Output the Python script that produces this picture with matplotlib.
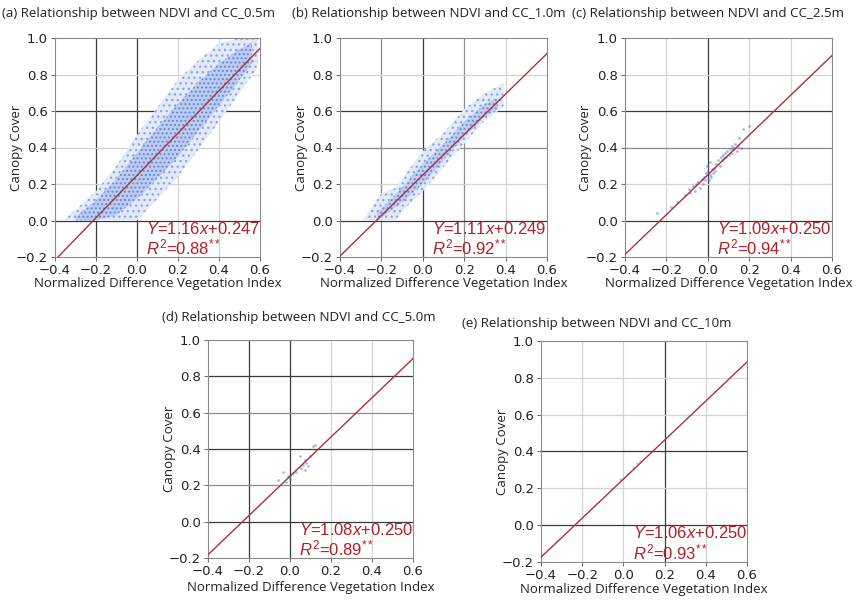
import matplotlib
matplotlib.use("Agg")
import matplotlib.pyplot as plt
import numpy as np

# ---------------- data ----------------
panel_letters = ["(a)", "(b)", "(c)", "(d)", "(e)"]
resolutions = ["0.5m", "1.0m", "2.5m", "5.0m", "10m"]
slopes = [1.16, 1.11, 1.09, 1.08, 1.06]
intercepts = [0.247, 0.249, 0.250, 0.250, 0.250]
r2_values = [0.88, 0.92, 0.94, 0.89, 0.93]

x_ticks = [-0.4, -0.2, 0.0, 0.2, 0.4, 0.6]
y_ticks = [-0.2, 0.0, 0.2, 0.4, 0.6, 0.8, 1.0]

# (a) point-cloud envelope (outer fringe and dense core)
a_outer_x = [-0.36, -0.3, -0.2, -0.1, 0.0, 0.1, 0.2, 0.3, 0.4, 0.5, 0.59]
a_outer_hi = [0.0, 0.06, 0.16, 0.30, 0.47, 0.62, 0.77, 0.88, 0.97, 1.0, 1.0]
a_outer_lo = [0.0, 0.0, 0.0, 0.0, 0.0, 0.12, 0.24, 0.39, 0.54, 0.70, 0.84]
a_core_x = [-0.3, -0.2, -0.1, 0.0, 0.1, 0.2, 0.3, 0.4, 0.5, 0.56]
a_core_hi = [0.02, 0.11, 0.23, 0.37, 0.51, 0.64, 0.76, 0.86, 0.94, 0.97]
a_core_lo = [0.0, 0.0, 0.03, 0.12, 0.23, 0.35, 0.49, 0.63, 0.77, 0.86]

# (b) point-cloud envelope
b_outer_x = [-0.29, -0.2, -0.13, -0.1, 0.0, 0.1, 0.2, 0.3, 0.39]
b_outer_hi = [0.0, 0.15, 0.18, 0.23, 0.38, 0.48, 0.61, 0.70, 0.75]
b_outer_lo = [0.0, 0.0, 0.0, 0.05, 0.16, 0.29, 0.42, 0.55, 0.62]
b_core_x = [-0.22, -0.1, 0.0, 0.1, 0.2, 0.3, 0.36]
b_core_hi = [0.04, 0.18, 0.31, 0.42, 0.54, 0.64, 0.67]
b_core_lo = [0.0, 0.10, 0.20, 0.33, 0.46, 0.57, 0.61]

# (c) individual points
c_x = [-0.245, -0.18, -0.15, -0.11, -0.09, -0.085, -0.07, -0.06, -0.055, -0.045,
       -0.04, -0.03, -0.025, -0.02, -0.015, -0.01, -0.005, 0.0, 0.0, 0.005,
       0.01, 0.01, 0.015, 0.02, 0.025, 0.03, 0.035, 0.04, 0.05, 0.06,
       0.065, 0.07, 0.075, 0.08, 0.085, 0.09, 0.095, 0.1, 0.105, 0.11,
       0.115, 0.12, 0.125, 0.13, 0.14, 0.145, 0.15, 0.16, 0.17, 0.2]
c_y = [0.04, 0.075, 0.10, 0.14, 0.17, 0.15, 0.19, 0.16, 0.20, 0.21,
       0.18, 0.23, 0.20, 0.24, 0.22, 0.26, 0.30, 0.23, 0.27, 0.22,
       0.25, 0.32, 0.24, 0.28, 0.26, 0.29, 0.27, 0.31, 0.33, 0.30,
       0.35, 0.33, 0.36, 0.34, 0.37, 0.35, 0.38, 0.36, 0.39, 0.37,
       0.41, 0.39, 0.40, 0.42, 0.38, 0.41, 0.45, 0.40, 0.50, 0.52]

# (d) individual points
d_x = [-0.059, -0.034, -0.018, -0.01, -0.002, 0.0, 0.015, 0.031, 0.047, 0.055,
       0.063, 0.072, 0.072, 0.08, 0.088, 0.096, 0.112, 0.12]
d_y = [0.23, 0.276, 0.221, 0.249, 0.234, 0.25, 0.267, 0.276, 0.362, 0.295,
       0.313, 0.285, 0.34, 0.322, 0.304, 0.359, 0.414, 0.42]

# (e) individual points
e_x = [-0.016, 0.017, 0.049, 0.065, 0.081]
e_y = [0.253, 0.28, 0.317, 0.335, 0.347]

# ---------------- styling ----------------
plt.rcParams["mathtext.fontset"] = "custom"
plt.rcParams["mathtext.rm"] = "Liberation Sans"
plt.rcParams["mathtext.it"] = "Liberation Sans:italic"
plt.rcParams["hatch.linewidth"] = 0.9

DARK, MED, LIGHT = "#3a3a3a", "#8c8c8c", "#d4d4d4"
grid_styles = [
    ({-0.2: DARK, 0.0: DARK, 0.2: LIGHT, 0.4: LIGHT},
     {0.0: DARK, 0.2: LIGHT, 0.4: LIGHT, 0.6: DARK, 0.8: LIGHT}),
    ({-0.2: MED, 0.0: DARK, 0.2: MED, 0.4: LIGHT},
     {0.0: DARK, 0.2: LIGHT, 0.4: MED, 0.6: DARK, 0.8: LIGHT}),
    ({-0.2: LIGHT, 0.0: DARK, 0.2: LIGHT, 0.4: LIGHT},
     {0.0: DARK, 0.2: LIGHT, 0.4: MED, 0.6: DARK, 0.8: LIGHT}),
    ({-0.2: DARK, 0.0: DARK, 0.2: LIGHT, 0.4: LIGHT},
     {0.0: DARK, 0.2: MED, 0.4: DARK, 0.6: MED, 0.8: DARK}),
    ({-0.2: LIGHT, 0.0: LIGHT, 0.2: DARK, 0.4: LIGHT},
     {0.0: DARK, 0.2: LIGHT, 0.4: DARK, 0.6: LIGHT, 0.8: LIGHT}),
]

W, H = 858, 600
# axes boxes in pixels: left, top, right, bottom
boxes = [(55, 38, 260, 257), (340, 38, 547, 257), (625, 38, 832, 257),
         (208, 340, 413, 558), (541, 341, 747, 562)]
title_pos = [(2, 14), (292, 14), (572, 14), (162, 318), (462, 323)]
xlabel_y = [283, 283, 283, 588, 590]
ylabel_x = [17, 302, 586, 170, 503]

fig = plt.figure(figsize=(W / 100, H / 100), dpi=100)
fig.patch.set_facecolor("white")

LABEL_FONT = ["Open Sans", "DejaVu Sans"]
EQ_FONT = ["Liberation Sans", "DejaVu Sans"]
RED = "#b0202a"
LINE = "#a8323a"
DOT = "#5a80d8"


def cloud(ax, x, lo, hi, face, edge, hatch):
    ax.fill_between(x, lo, hi, facecolor=face, edgecolor=edge, hatch=hatch,
                    lw=0, zorder=2)


for i in range(5):
    l, t, r, b = boxes[i]
    ax = fig.add_axes([l / W, 1 - b / H, (r - l) / W, (b - t) / H])
    ax.set_xlim(-0.4, 0.6)
    ax.set_ylim(-0.2, 1.0)
    ax.set_xticks(x_ticks)
    ax.set_yticks(y_ticks)
    ax.tick_params(labelsize=9.5, length=3, width=0.7, color="#666666",
                   labelcolor="#222222", pad=2)
    for s in ax.spines.values():
        s.set_color("#8a8a8a")
        s.set_linewidth(0.8)
    vstyle, hstyle = grid_styles[i]
    for xv, col in vstyle.items():
        ax.axvline(xv, color=col, lw=0.9, zorder=1)
    for yv, col in hstyle.items():
        ax.axhline(yv, color=col, lw=0.9, zorder=1)

    if i == 0:
        cloud(ax, a_outer_x, a_outer_lo, a_outer_hi, "#e2e9f8", "#8aa4df", "...")
        cloud(ax, a_core_x, a_core_lo, a_core_hi, "#bccbef", "#6486d5", "....")
    elif i == 1:
        cloud(ax, b_outer_x, b_outer_lo, b_outer_hi, "#e2e9f8", "#8aa4df", "...")
        cloud(ax, b_core_x, b_core_lo, b_core_hi, "#bfcdef", "#6688d6", "....")
    elif i == 2:
        ax.scatter(c_x, c_y, s=4, color=DOT, alpha=0.55, lw=0, zorder=2)
    elif i == 3:
        ax.scatter(d_x, d_y, s=4, color=DOT, alpha=0.5, lw=0, zorder=2)
    else:
        ax.scatter(e_x, e_y, s=3, color="#9aa6c4", alpha=0.6, lw=0, zorder=2)

    xs = np.array([-0.4, 0.6])
    ax.plot(xs, slopes[i] * xs + intercepts[i], color=LINE, lw=1.0, zorder=3)

    ax.text(0.045, -0.045,
            r"$\mathit{Y}$=%.2f$\mathit{x}$+%.3f" % (slopes[i], intercepts[i]),
            color=RED, fontsize=12, family=EQ_FONT, ha="left", va="center",
            zorder=4)
    ax.text(0.045, -0.15, r"$\mathit{R}^{2}$=%.2f$^{**}$" % r2_values[i],
            color=RED, fontsize=12, family=EQ_FONT, ha="left", va="center",
            zorder=4)

    tx, ty = title_pos[i]
    fig.text(tx / W, 1 - ty / H,
             panel_letters[i] + " Relationship between NDVI and CC_" + resolutions[i],
             fontsize=9.6, family=LABEL_FONT, color="#222222", ha="left", va="center")
    fig.text(((l + r) / 2) / W, 1 - xlabel_y[i] / H,
             "Normalized Difference Vegetation Index", fontsize=9.5,
             family=LABEL_FONT, color="#222222", ha="center", va="center")
    fig.text(ylabel_x[i] / W, 1 - ((t + b) / 2) / H, "Canopy Cover",
             fontsize=9.5, family=LABEL_FONT, color="#222222", rotation=90,
             ha="center", va="center")

fig.savefig("out.png", dpi=100, facecolor="white")
